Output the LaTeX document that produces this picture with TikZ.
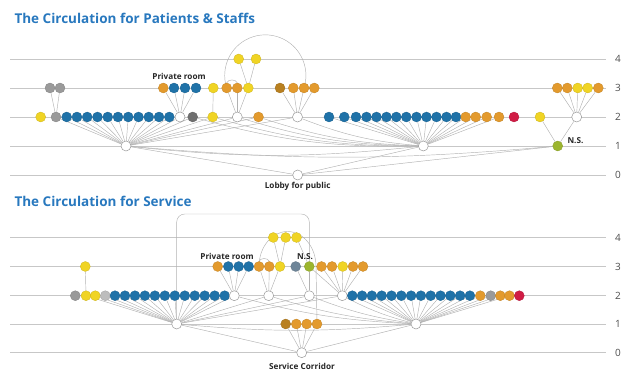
\documentclass[tikz,border=0pt]{standalone}
\usepackage{fontspec}
\setmainfont{Open Sans}
\usetikzlibrary{backgrounds}
\definecolor{cblue}{HTML}{1F72A8}
\definecolor{corange}{HTML}{E39A2D}
\definecolor{cyellow}{HTML}{F0D424}
\definecolor{cgray}{HTML}{9A9A9A}
\definecolor{cdgray}{HTML}{6F6F6F}
\definecolor{clgray}{HTML}{BDBDBD}
\definecolor{cbrown}{HTML}{B98020}
\definecolor{cred}{HTML}{D01C45}
\definecolor{cgreen}{HTML}{9CB52E}
\definecolor{cslate}{HTML}{6E8598}
\definecolor{ctitle}{HTML}{2878BE}
\begin{document}
\begin{tikzpicture}[x=1pt,y=1pt,
  dot/.style={circle,inner sep=0pt,minimum size=10pt,fill=#1,draw=#1!85!black,line width=0.3pt},
  hub/.style={circle,inner sep=0pt,minimum size=10pt,fill=white,draw=black!40,line width=0.5pt},
  link/.style={draw=black!30,line width=0.45pt},
  level/.style={draw=black!22,line width=0.6pt},
  lvl/.style={text=black!70,font=\fontsize{10}{11}\selectfont},
  lab/.style={text=black!85,font=\bfseries\fontsize{8.2}{9}\selectfont},
  title/.style={text=ctitle,font=\bfseries\fontsize{13.5}{15}\selectfont,anchor=west}]
\useasboundingbox (0,0) rectangle (632,-371);
\node[title] (atitle) at (11,-18) {The Circulation for Patients \& Staffs};
\node[title] (btitle) at (11,-201.5) {The Circulation for Service};
\foreach \n/\y in {4/59,3/88,2/117,1/146,0/175}
  \node[lvl] (an\n) at (618,-\y) {\n};
\foreach \n/\y in {4/237.5,3/266.5,2/295.7,1/324,0/352.7}
  \node[lvl] (bn\n) at (618,-\y) {\n};
% patients and staffs
\node[dot=cyellow] (ay1) at (40.7,-117) {};
\node[dot=cgray] (ag1) at (56,-117) {};
\foreach \i in {1,...,11}
  \node[dot=cblue] (ab\i) at ({66.7+10.26*(\i-1)},-117) {};
\node[hub] (aw1) at (180,-117) {};
\node[dot=cdgray] (ad1) at (192.7,-117) {};
\node[dot=cyellow] (ay2) at (212.7,-117) {};
\node[hub] (aw2) at (237.3,-117) {};
\node[dot=corange] (ao1) at (258.5,-117) {};
\node[hub] (aw3) at (297.5,-117) {};
\foreach \x [count=\i] in {329,344.3,356,366.5,376.5,386.5,396.3,406.3,416.5,426.5,436.5,446.5,456}
  \node[dot=cblue] (ac\i) at (\x,-117) {};
\foreach \x [count=\i] in {465.7,475.7,486.7,499}
  \node[dot=corange] (ak\i) at (\x,-117) {};
\node[dot=cred] (ar1) at (514,-117) {};
\node[dot=cyellow] (ay3) at (540,-117) {};
\node[hub] (aw4) at (576.7,-117) {};
\node[dot=cgray] (ag2) at (50,-88) {};
\node[dot=cgray] (ag3) at (60,-88) {};
\node[dot=corange] (ao2) at (163.3,-88) {};
\foreach \x [count=\i] in {174,185,196}
  \node[dot=cblue] (ap\i) at (\x,-88) {};
\node[dot=cyellow] (ay4) at (213.3,-88) {};
\node[dot=corange] (ao3) at (226.7,-88) {};
\node[dot=corange] (ao4) at (237.3,-88) {};
\node[dot=cyellow] (ay5) at (248.3,-88) {};
\node[dot=cbrown] (am1) at (280,-88) {};
\node[dot=corange] (ao5) at (293.3,-88) {};
\node[dot=corange] (ao6) at (304,-88) {};
\node[dot=corange] (ao7) at (314.3,-88) {};
\foreach \x/\c [count=\i] in {557.3/corange,567.3/corange,577.7/cyellow,587.7/cyellow,598.3/corange}
  \node[dot=\c] (aq\i) at (\x,-88) {};
\node[dot=cyellow] (ay6) at (238.7,-59) {};
\node[dot=cyellow] (ay7) at (256,-59) {};
\node[hub] (ah1) at (126,-146) {};
\node[hub] (ah2) at (423.3,-146) {};
\node[dot=cgreen] (ans) at (557.7,-146) {};
\node[hub] (alb) at (297.7,-175) {};
\node[lab] (aprl) at (179,-76.5) {Private room};
\node[lab,anchor=west] (ansl) at (564,-141) {N.S.};
\node[lab] (albl) at (297.7,-186) {Lobby for public};
% service
\node[dot=cgray] (bg1) at (75.3,-295.7) {};
\node[dot=cyellow] (by1) at (86,-295.7) {};
\node[dot=cyellow] (by2) at (95.3,-295.7) {};
\node[dot=clgray] (bl1) at (105.3,-295.7) {};
\foreach \i in {1,...,12}
  \node[dot=cblue] (bb\i) at ({115+9.97*(\i-1)},-295.7) {};
\node[hub] (bw1) at (234.3,-295.7) {};
\node[hub] (bw2) at (268.7,-295.7) {};
\node[hub] (bw3) at (309.3,-295.7) {};
\node[hub] (bw4) at (342.3,-295.7) {};
\foreach \i in {1,...,13}
  \node[dot=cblue] (bc\i) at ({352.3+9.8*(\i-1)},-295.7) {};
\node[dot=corange] (bk1) at (480.3,-295.7) {};
\node[dot=cgray] (bg2) at (490.7,-295.7) {};
\node[dot=corange] (bk2) at (500.3,-295.7) {};
\node[dot=corange] (bk3) at (509.5,-295.7) {};
\node[dot=cred] (br1) at (519.3,-295.7) {};
\node[dot=cyellow] (by3) at (85.3,-266.5) {};
\node[dot=corange] (bo1) at (217.7,-266.5) {};
\foreach \x [count=\i] in {228.3,238.7,248.7}
  \node[dot=cblue] (bp\i) at (\x,-266.5) {};
\node[dot=corange] (bo2) at (259,-266.5) {};
\node[dot=corange] (bo3) at (269.3,-266.5) {};
\node[dot=cyellow] (by4) at (280,-266.5) {};
\node[dot=cslate] (bs1) at (295.7,-266.5) {};
\node[dot=cgreen] (bns) at (309.3,-266.5) {};
\foreach \x/\c [count=\i] in {321.5/corange,332/corange,342.7/cyellow,353/corange,363/corange}
  \node[dot=\c] (bq\i) at (\x,-266.5) {};
\node[dot=cyellow] (by5) at (273.3,-237.5) {};
\node[dot=cyellow] (by6) at (285.7,-237.5) {};
\node[dot=cyellow] (by7) at (296.5,-237.5) {};
\node[hub] (bh1) at (176.7,-324) {};
\node[dot=cbrown] (bm1) at (285.7,-324) {};
\node[dot=corange] (bm2) at (296.3,-324) {};
\node[dot=corange] (bm3) at (306.7,-324) {};
\node[dot=corange] (bm4) at (317,-324) {};
\node[hub] (bh2) at (416,-324) {};
\node[hub] (bsc) at (301.7,-352.7) {};
\node[lab] (bprl) at (227,-256.5) {Private room};
\node[lab] (bnsl) at (305,-256.5) {N.S.};
\node[lab] (bscl) at (302,-366.5) {Service Corridor};
\coordinate (bcorner) at (309.3,-214);
\begin{pgfonlayer}{background}
\foreach \y in {59,88,117,146,175,237.5,266.5,295.7,324,352.7}
  \draw[level] (10,-\y) -- (606,-\y);
\foreach \t in {ag2,ag3} \draw[link] (ag1) -- (\t);
\foreach \t in {ao2,ap1,ap2,ap3} \draw[link] (aw1) -- (\t);
\draw[link] (ay2) -- (ay4);
\foreach \t in {ao3,ao4,ay5} \draw[link] (aw2) -- (\t);
\foreach \t in {ay6,ay7} \draw[link] (ay5) -- (\t);
\foreach \t in {am1,ao5,ao6,ao7} \draw[link] (aw3) -- (\t);
\draw[link] (ao3.center) arc[start angle=198,end angle=-18,radius=40.6];
\draw[link] (ao3.north) to[bend left=70] (ao4.north);
\foreach \i in {1,...,11} \draw[link] (ah1) -- (ab\i);
\foreach \t in {ag1,aw1,ad1,ay2,aw2,ao1,aw3} \draw[link] (ah1) -- (\t);
\foreach \i in {1,...,13} \draw[link] (ah2) -- (ac\i);
\foreach \i in {1,...,4} \draw[link] (ah2) -- (ak\i);
\foreach \t in {ad1,ay2,aw2,ao1,aw3} \draw[link] (\t) to[bend right=8] (ah2);
\draw[link] (ah1) to[bend right=6] (ah2);
\draw[link] (ah1) to[bend right=5] (ans);
\foreach \t in {ah1,ah2,ans} \draw[link] (alb) -- (\t);
\draw[link] (ay3) -- (ans);
\draw[link] (aw4) -- (ans);
\foreach \i in {1,...,5} \draw[link] (aw4) -- (aq\i);
\draw[link] (by1) -- (by3);
\foreach \t in {bo1,bp1,bp2,bp3} \draw[link] (bw1) -- (\t);
\foreach \t in {bo2,bo3,by4} \draw[link] (bw2) -- (\t);
\foreach \t in {by5,by6} \draw[link] (by4) -- (\t);
\draw[link] (by7) -- (bns);
\foreach \t in {bs1,bns} \draw[link] (bw3) -- (\t);
\foreach \t in {bns,bq1,bq2,bq3,bq4,bq5} \draw[link] (bw4) -- (\t);
\foreach \t in {by1,by2,bl1,bw1,bw2,bw3,bw4,bsc} \draw[link] (bh1) -- (\t);
\foreach \i in {1,...,12} \draw[link] (bh1) -- (bb\i);
\foreach \i in {1,...,13} \draw[link] (bh2) -- (bc\i);
\foreach \t in {bk1,bg2,bk2,bk3,bsc} \draw[link] (bh2) -- (\t);
\foreach \t in {bw1,bw2,bw3,bw4} \draw[link] (\t) to[bend right=6] (bh2);
\draw[link] (bh1) to[bend right=5] (bh2);
\foreach \t in {bm1,bm2,bm3,bm4} \draw[link] (bsc) -- (\t);
\draw[link,rounded corners=8pt] (bh1) |- (bcorner) -- (bns);
\draw[link] (bo2.center) arc[start angle=180,end angle=0,x radius=28.5,y radius=35] -- (bm4);
\draw[link] (bo2.north) to[bend left=70] (bo3.north);
\end{pgfonlayer}
\end{tikzpicture}
\end{document}
